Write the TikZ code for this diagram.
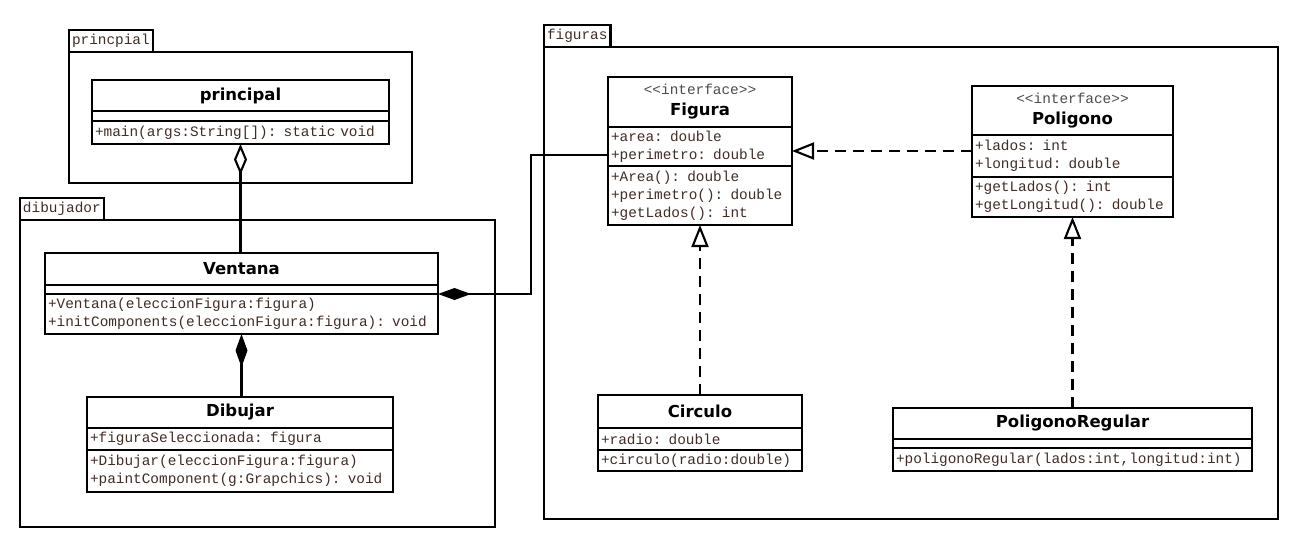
\documentclass[tikz,border=0pt]{standalone}
\usepackage{xcolor}
\usepackage{fontspec}
\setmonofont{Liberation Mono}
\newfontfamily\namefam{DejaVu Sans}
\usepackage{tikz}
\usetikzlibrary{positioning,arrows.meta}
\definecolor{textbrown}{RGB}{64,45,38}
\newcommand\monotxt{\ttfamily\fontsize{14.4}{18}\selectfont}
\newcommand\namefnt{\namefam\bfseries\fontsize{16.5}{19}\selectfont}
\newcommand\stereofnt{\ttfamily\fontsize{14.4}{18}\selectfont\mdseries\color{black!70}}
\tikzset{
  every overlay node/.style={}
}

\begin{document}
\begin{tikzpicture}[x=1pt, y=-1pt,
			pkg/.style = {draw, line width=2.1pt, anchor=north west, inner sep=0pt, outer sep=0pt},
			pkgtab/.style = {draw, line width=2.1pt, anchor=south west, font=\monotxt, text=textbrown, inner xsep=3pt, inner ysep=0pt, minimum height=22pt, outer sep=0pt},
			cname/.style = {draw, fill=white, line width=2.1pt, anchor=north west, inner sep=0pt, outer sep=0pt, font=\namefnt, align=center},
			cpart/.style 2 args = {draw, fill=white, line width=2.1pt, anchor=north west, inner xsep=3pt, inner ysep=0pt, outer sep=0pt, font=\monotxt, text=textbrown, align=left, text width=#1, minimum width=#1+6pt, minimum height=#2},
			aggr/.style = {{Diamond[open, length=31pt, width=13pt]}-, line width=2.1pt},
			comp/.style = {{Diamond[length=33pt, width=12pt]}-, line width=2.1pt},
			realiz/.style = {-{Triangle[open, length=22pt, width=17pt]}, line width=2.1pt, dash pattern=on 11pt off 7pt}]
			\useasboundingbox (0,0) rectangle (1294,550);
			
			% packages
			\node[pkg, minimum width=343pt, minimum height=131pt] (pkgPrin) at (69,52) {};
			\node[pkgtab] (tabPrin) at (pkgPrin.north west) {princpial};
			\node[pkg, minimum width=475pt, minimum height=307pt] (pkgDib) at (20,220) {};
			\node[pkgtab] (tabDib) at (pkgDib.north west) {dibujador};
			\node[pkg, minimum width=734pt, minimum height=472pt] (pkgFig) at (544,47) {};
			\node[pkgtab] (tabFig) at (pkgFig.north west) {figuras};
			
			% principal
			\node[cname, minimum width=297pt, minimum height=31pt] (prinName) at (92,80) {principal};
			\node[cpart={291pt}{10pt}] (prinAttr) at (prinName.south west) {};
			\node[cpart={291pt}{23pt}] (prinMeth) at (prinAttr.south west) {+main(args:String[]): static void};
			
			% Ventana
			\node[cname, minimum width=393pt, minimum height=32pt] (ventName) at (45,253) {Ventana};
			\node[cpart={387pt}{9pt}] (ventAttr) at (ventName.south west) {};
			\node[cpart={387pt}{40pt}] (ventMeth) at (ventAttr.south west) {+Ventana(eleccionFigura:figura)\\+initComponents(eleccionFigura:figura): void};
			
			% Dibujar
			\node[cname, minimum width=306pt, minimum height=31pt] (dibName) at (87,397) {Dibujar};
			\node[cpart={300pt}{22pt}] (dibAttr) at (dibName.south west) {+figuraSeleccionada: figura};
			\node[cpart={300pt}{42pt}] (dibMeth) at (dibAttr.south west) {+Dibujar(eleccionFigura:figura)\\+paintComponent(g:Grapchics): void};
			
			% Figura
			\node[cname, minimum width=184pt, minimum height=50pt] (figName) at (608,77) {{\stereofnt <<interface>>}\\[2pt]Figura};
			\node[cpart={178pt}{39pt}] (figAttr) at (figName.south west) {+area: double\\+perimetro: double};
			\node[cpart={178pt}{59pt}] (figMeth) at (figAttr.south west) {+Area(): double\\+perimetro(): double\\+getLados(): int};
			
			% Poligono
			\node[cname, minimum width=201pt, minimum height=49pt] (polName) at (972,86) {{\stereofnt <<interface>>}\\[2pt]Poligono};
			\node[cpart={195pt}{42pt}] (polAttr) at (polName.south west) {+lados: int\\+longitud: double};
			\node[cpart={195pt}{40pt}] (polMeth) at (polAttr.south west) {+getLados(): int\\+getLongitud(): double};
			
			% Circulo
			\node[cname, minimum width=204pt, minimum height=33pt] (circName) at (598,395) {Circulo};
			\node[cpart={198pt}{22pt}] (circAttr) at (circName.south west) {+radio: double};
			\node[cpart={198pt}{21pt}] (circMeth) at (circAttr.south west) {+circulo(radio:double)};
			
			% PoligonoRegular
			\node[cname, minimum width=359pt, minimum height=31pt] (pregName) at (893,408) {PoligonoRegular};
			\node[cpart={353pt}{9pt}] (pregAttr) at (pregName.south west) {};
			\node[cpart={353pt}{23pt}] (pregMeth) at (pregAttr.south west) {+poligonoRegular(lados:int,longitud:int)};
			
			% relations
			\coordinate (realY) at (0,151);
			\draw[aggr] (prinMeth.south) -- (prinMeth.south |- ventName.north);
			\draw[comp] (ventMeth.south) -- (ventMeth.south |- dibName.north);
			\draw[comp] (ventMeth.north east) -- ++(93,0) |- ([yshift=-8.5pt]figAttr.west);
			\draw[realiz] (realY -| polAttr.west) -- (realY -| figAttr.east);
			\draw[realiz] (circName.north) -- (figMeth.south);
			\draw[realiz] (pregName.north) -- (polMeth.south);
		\end{tikzpicture}
\end{document}
